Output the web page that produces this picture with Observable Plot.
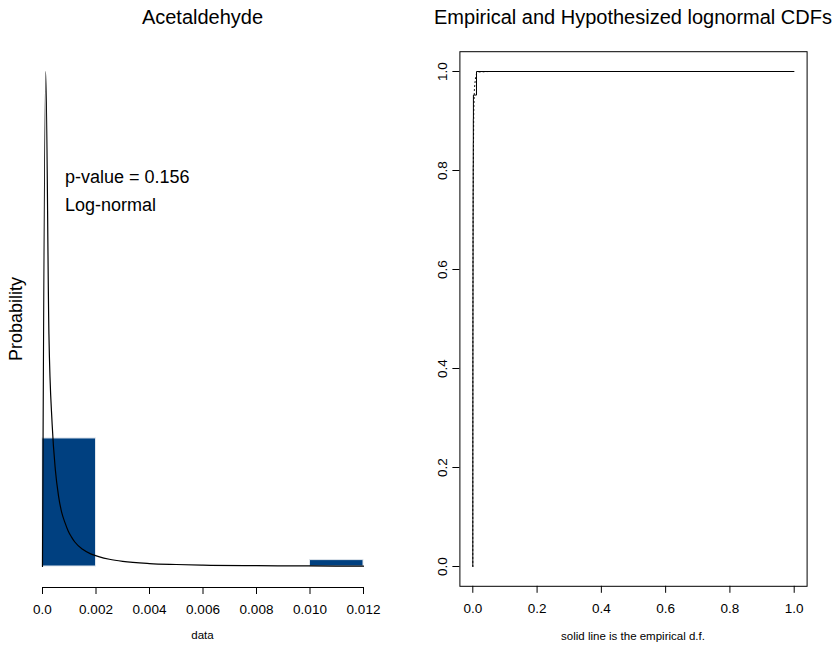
<!DOCTYPE html>
<html><head><meta charset="utf-8">
<script src="https://cdn.jsdelivr.net/npm/d3@7"></script>
<script src="https://cdn.jsdelivr.net/npm/@observablehq/plot@0.6"></script>
<style>
body{margin:0;background:#fff;font-family:"Liberation Sans",Arial,sans-serif;}
#wrap{position:relative;width:839px;height:648px;overflow:hidden;background:#fff;}
.p{position:absolute;top:0;}
.t{position:absolute;white-space:nowrap;color:#000;transform:translate(-50%,-50%);line-height:1;}
</style></head><body><div id="wrap"></div>
<script>
// Left panel: histogram (density) of Acetaldehyde data
const binStart = [0, 0.002, 0.004, 0.006, 0.008, 0.010];
const binEnd = [0.002, 0.004, 0.006, 0.008, 0.010, 0.012];
const binDensity = [476.2, 0, 0, 0, 0, 23.8];
// fitted log-normal density curve
const curveX = [0, 0.00012, 0.00024, 0.00036, 0.00048, 0.0006, 0.00072, 0.00084, 0.00096, 0.00108, 0.0012, 0.0015, 0.0018, 0.0021, 0.0025, 0.003, 0.004, 0.005, 0.006, 0.008, 0.010, 0.012];
const curveY = [0, 1841, 865, 530, 360, 262, 200, 163, 132, 110, 92, 64, 47, 37, 27, 19, 11, 7.5, 5, 3, 2, 1.3];
const xTicksLeft = [0, 0.002, 0.004, 0.006, 0.008, 0.010, 0.012];
const xTickLabelsLeft = ["0.0", "0.002", "0.004", "0.006", "0.008", "0.010", "0.012"];
const annotation = ["p-value = 0.156", "Log-normal"];

// Right panel: empirical CDF (sorted sample) and hypothesized lognormal CDF
const sample = [0.00005, 0.00008, 0.0001, 0.00012, 0.00015, 0.0002, 0.00025, 0.0003, 0.00035, 0.0004, 0.0005, 0.0006, 0.0007, 0.0008, 0.0009, 0.001, 0.0012, 0.0014, 0.0016, 0.0019, 0.0115];
const hypX = [0, 0.00005, 0.0001, 0.0002, 0.0004, 0.0007, 0.001, 0.0015, 0.002, 0.003, 0.005, 0.008, 0.0115, 0.02, 0.05, 0.1, 0.2, 0.5, 1.0];
const hypF = [0, 0.2, 0.3, 0.42, 0.55, 0.66, 0.72, 0.79, 0.84, 0.92, 0.965, 0.985, 0.995, 0.999, 1, 1, 1, 1, 1];
const cdfTicks = [0, 0.2, 0.4, 0.6, 0.8, 1.0];
const cdfTickLabels = ["0.0", "0.2", "0.4", "0.6", "0.8", "1.0"];

const FONT = '"Liberation Sans", Arial, sans-serif';
const wrap = document.getElementById("wrap");

const bars = binStart.map((s, i) => ({x1: s, x2: binEnd[i], d: binDensity[i]}));
const curve = curveX.map((x, i) => ({x, y: curveY[i]}));

const left = Plot.plot({
  width: 420, height: 648,
  marginLeft: 42, marginRight: 57, marginTop: 51, marginBottom: 61,
  style: {fontFamily: FONT, fontSize: "13.5px", background: "transparent", color: "#000"},
  x: {domain: [0, 0.012], label: null},
  y: {domain: [0, 1841], insetTop: 20, insetBottom: 21, axis: null},
  marks: [
    Plot.rectY(bars, {x1: "x1", x2: "x2", y: "d", fill: "#004080", stroke: "#dfe5ec", strokeWidth: 1, filter: d => d.d > 0}),
    Plot.line(curve, {x: "x", y: "y", stroke: "#000", strokeWidth: 1.2, curve: "monotone-x"}),
    Plot.ruleY([0], {x1: 0, x2: 0.012, dy: 21, stroke: "#000", strokeWidth: 1}),
    Plot.axisX({ticks: xTicksLeft, tickSize: 7, tickPadding: 10, label: null,
      tickFormat: d => xTickLabelsLeft[xTicksLeft.indexOf(d)]})
  ]
});
left.classList.add("p");
left.style.left = "0px";
wrap.appendChild(left);

const n = sample.length;
const ecdf = [{x: sample[0], y: 0}, ...sample.map((v, i) => ({x: v, y: (i + 1) / n})), {x: 1, y: 1}];
const hyp = hypX.map((x, i) => ({x, y: hypF[i]}));

const right = Plot.plot({
  width: 419, height: 648,
  marginLeft: 39.4, marginRight: 32.4, marginTop: 51.2, marginBottom: 62.2,
  style: {fontFamily: FONT, fontSize: "13.5px", background: "transparent", color: "#000"},
  x: {domain: [0, 1], insetLeft: 12.9, insetRight: 12.9, label: null},
  y: {domain: [0, 1], insetTop: 19.8, insetBottom: 19.8, label: null},
  marks: [
    Plot.frame({stroke: "#000", strokeWidth: 1}),
    Plot.line(hyp, {x: "x", y: "y", stroke: "#000", strokeWidth: 1, strokeDasharray: "1,3"}),
    Plot.line(ecdf, {x: "x", y: "y", stroke: "#000", strokeWidth: 1, curve: "step-after"}),
    Plot.axisX({ticks: cdfTicks, tickSize: 7, tickPadding: 10, label: null,
      tickFormat: d => cdfTickLabels[cdfTicks.indexOf(d)]}),
    Plot.axisY({ticks: cdfTicks, tickSize: 7, label: null, tickFormat: () => ""}),
    Plot.text(cdfTicks, {y: d => d, text: d => cdfTickLabels[cdfTicks.indexOf(d)], frameAnchor: "left", dx: -17.4, rotate: -90, textAnchor: "middle", lineAnchor: "middle"})
  ]
});
right.classList.add("p");
right.style.left = "420px";
wrap.appendChild(right);

function label(txt, x, y, size, rot) {
  const d = document.createElement("div");
  d.className = "t";
  d.textContent = txt;
  d.style.left = x + "px";
  d.style.top = y + "px";
  d.style.fontSize = size + "px";
  d.style.fontFamily = FONT;
  if (rot) d.style.transform = "translate(-50%,-50%) rotate(" + rot + "deg)";
  wrap.appendChild(d);
}
label("Acetaldehyde", 202.5, 17, 20);
label("Empirical and Hypothesized lognormal CDFs", 633, 17, 20);
label("Probability", 16, 319, 18, -90);
label("data", 202.5, 636, 11.5);
label("solid line is the empirical d.f.", 633, 637, 11.5);
// annotation text, left-aligned
annotation.forEach((t, i) => {
  const d = document.createElement("div");
  d.style.position = "absolute";
  d.style.left = "65px";
  d.style.top = (168 + i * 28) + "px";
  d.style.fontSize = "18px";
  d.style.fontFamily = FONT;
  d.style.whiteSpace = "nowrap";
  d.style.lineHeight = "1";
  d.textContent = t;
  wrap.appendChild(d);
});
</script></body></html>
